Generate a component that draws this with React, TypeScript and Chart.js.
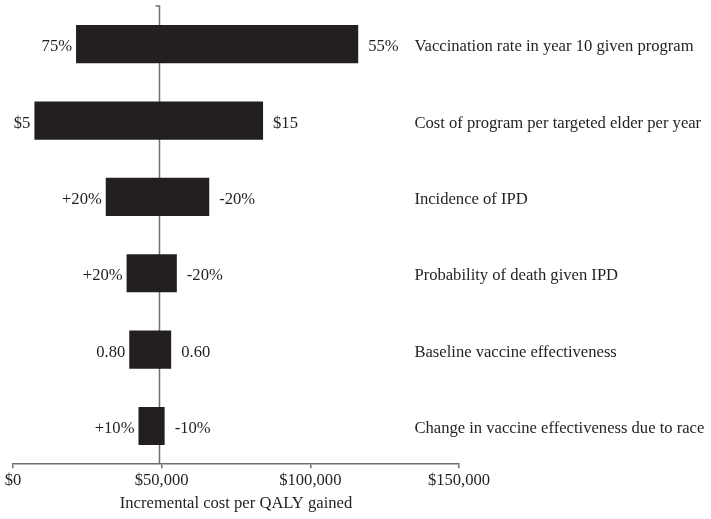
import React, { useEffect, useRef } from "react";
import { Chart, registerables } from "chart.js";

Chart.register(...registerables);

const categories = [
  "Vaccination rate in year 10 given program",
  "Cost of program per targeted elder per year",
  "Incidence of IPD",
  "Probability of death given IPD",
  "Baseline vaccine effectiveness",
  "Change in vaccine effectiveness due to race",
];
const lowValues = [21200, 7200, 31200, 38200, 39100, 42200];
const highValues = [116100, 84100, 66000, 55100, 53200, 51000];
const lowLabels = ["75%", "$5", "+20%", "+20%", "0.80", "+10%"];
const highLabels = ["55%", "$15", "-20%", "-20%", "0.60", "-10%"];
const baseValue = 49000;
const categoryLabelValue = 135000;
const xMin = 0;
const xMax = 150000;
const xStep = 50000;
const xTitle = "Incremental cost per QALY gained";

const FONT_FAMILY = "'Liberation Serif', 'Times New Roman', serif";
const FONT_SIZE = 16.6;
const TEXT_COLOR = "#231f20";
const BAR_COLOR = "#231f20";
const AXIS_COLOR = "#6d6e71";

const tornadoPlugin = {
  id: "tornadoLabels",
  beforeDatasetsDraw(chart: any) {
    const { ctx, chartArea, scales } = chart;
    const x = scales.x;
    const bx = Math.round(x.getPixelForValue(baseValue)) + 0.5;
    ctx.save();
    ctx.strokeStyle = AXIS_COLOR;
    ctx.lineWidth = 1.5;
    ctx.beginPath();
    ctx.moveTo(bx, chartArea.bottom);
    ctx.lineTo(bx, chartArea.top);
    ctx.lineTo(bx - 4, chartArea.top);
    ctx.stroke();
    ctx.restore();
  },
  afterDatasetsDraw(chart: any) {
    const { ctx, scales } = chart;
    const x = scales.x;
    const y = scales.y;
    ctx.save();
    ctx.font = `${FONT_SIZE}px ${FONT_FAMILY}`;
    ctx.fillStyle = TEXT_COLOR;
    ctx.textBaseline = "alphabetic";
    categories.forEach((cat, i) => {
      const yc = y.getPixelForValue(i) + 7;
      ctx.textAlign = "right";
      ctx.fillText(lowLabels[i], x.getPixelForValue(lowValues[i]) - 4, yc);
      ctx.textAlign = "left";
      ctx.fillText(highLabels[i], x.getPixelForValue(highValues[i]) + 10, yc);
      ctx.fillText(cat, x.getPixelForValue(categoryLabelValue), yc);
    });
    ctx.restore();
  },
};

export default function App() {
  const ref = useRef<HTMLCanvasElement | null>(null);
  useEffect(() => {
    document.body.style.margin = "0";
    if (!ref.current) return;
    const chart = new Chart(ref.current, {
      type: "bar",
      data: {
        labels: categories,
        datasets: [
          {
            data: categories.map((_, i) => [lowValues[i], highValues[i]]) as any,
            backgroundColor: BAR_COLOR,
            borderWidth: 0,
            categoryPercentage: 1,
            barPercentage: 0.5,
          },
        ],
      },
      options: {
        indexAxis: "y",
        animation: false,
        responsive: true,
        maintainAspectRatio: false,
        layout: { padding: { top: 6, left: 13, right: 252, bottom: 0 } },
        plugins: { legend: { display: false }, tooltip: { enabled: false } },
        scales: {
          x: {
            type: "linear",
            min: xMin,
            max: xMax,
            grid: {
              drawOnChartArea: false,
              drawTicks: true,
              tickLength: 4,
              color: AXIS_COLOR,
              lineWidth: 1.5,
            },
            border: { display: true, color: AXIS_COLOR, width: 1.5 },
            ticks: {
              stepSize: xStep,
              padding: 3,
              color: TEXT_COLOR,
              font: { family: FONT_FAMILY, size: FONT_SIZE },
              callback: (v: any) => "$" + Number(v).toLocaleString("en-US"),
            },
            title: {
              display: true,
              text: xTitle,
              color: TEXT_COLOR,
              font: { family: FONT_FAMILY, size: FONT_SIZE },
              padding: { top: 0, bottom: 5 },
            },
          },
          y: {
            type: "category",
            display: false,
            offset: true,
          },
        },
      },
      plugins: [tornadoPlugin],
    });
    return () => chart.destroy();
  }, []);
  return (
    <div style={{ width: 711, height: 519, position: "relative" }}>
      <canvas ref={ref} />
    </div>
  );
}
